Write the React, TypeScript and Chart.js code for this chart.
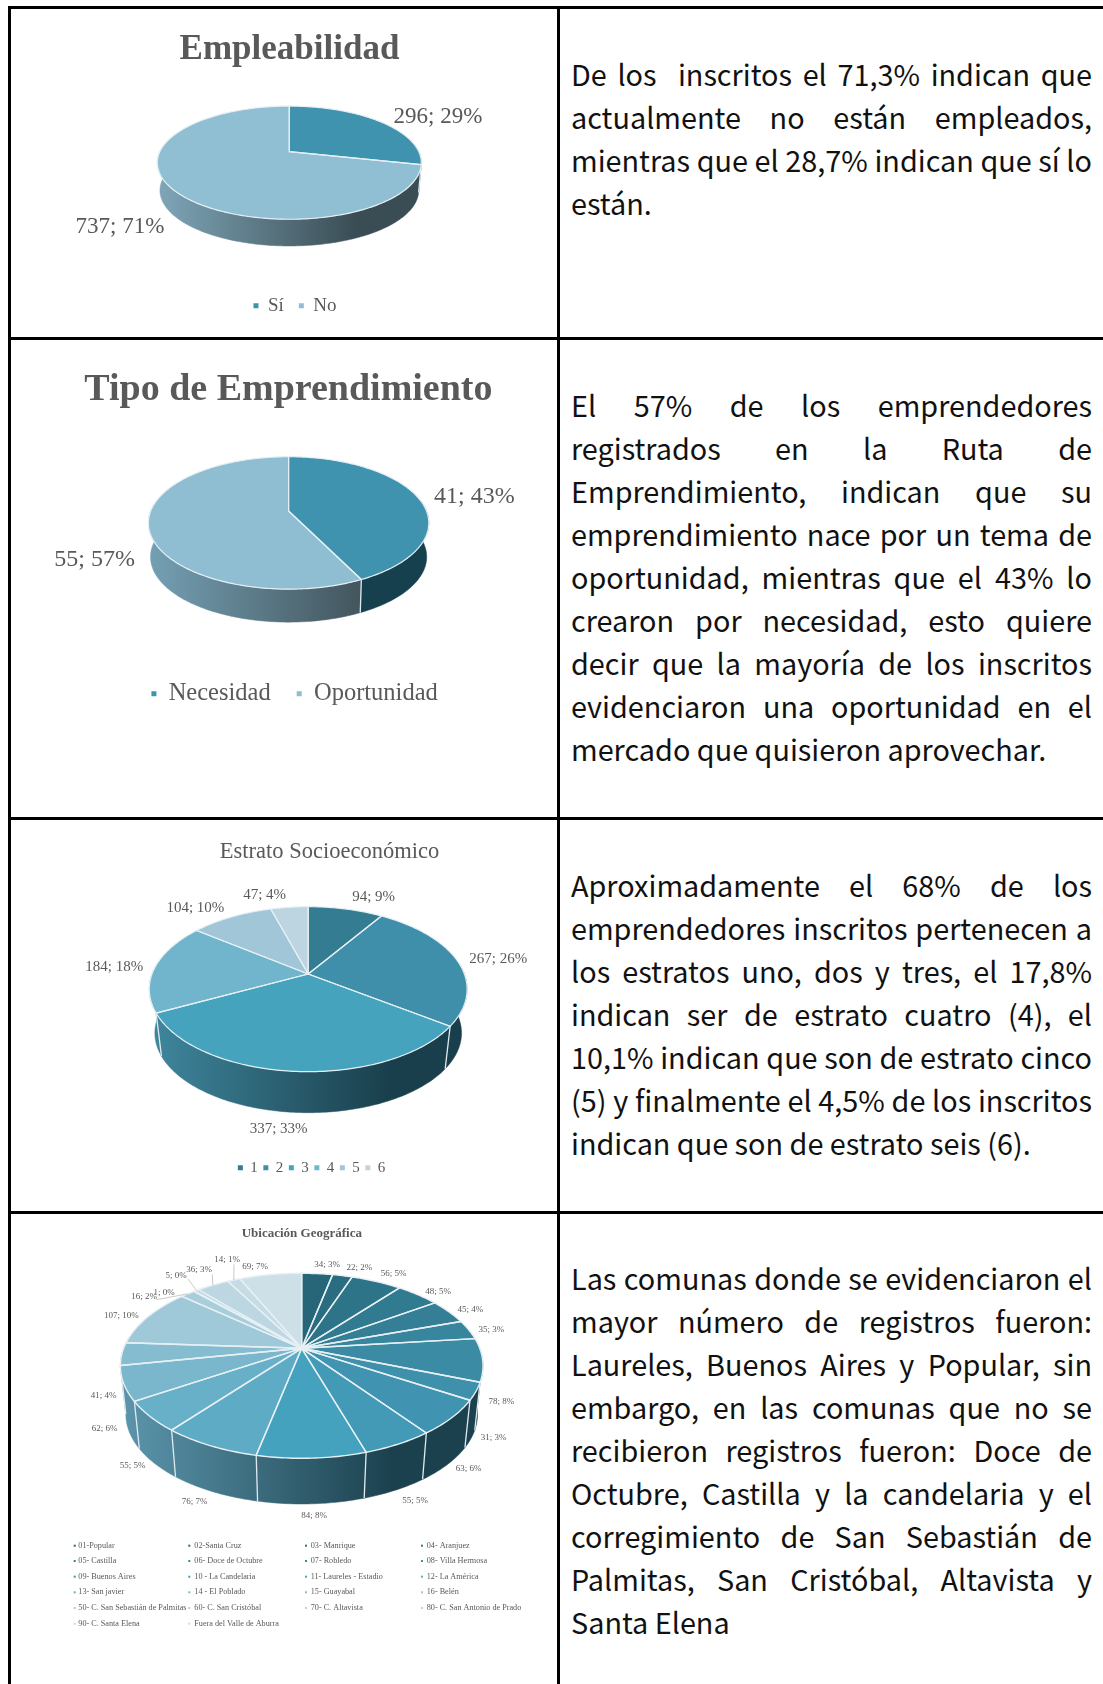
import React, { useEffect, useRef } from "react";
import { Chart, registerables } from "chart.js";

Chart.register(...registerables);

// ---------- data ----------
const empleoLabels = ["Sí", "No"];
const empleoValues = [296, 737];
const empleoPercents = [29, 71];

const tipoLabels = ["Necesidad", "Oportunidad"];
const tipoValues = [41, 55];
const tipoPercents = [43, 57];

const estratoLabels = ["1", "2", "3", "4", "5", "6"];
const estratoValues = [94, 267, 337, 184, 104, 47];
const estratoPercents = [9, 26, 33, 18, 10, 4];

const ubicacionLabels = [
  "01-Popular", "02-Santa Cruz", "03- Manrique", "04- Aranjuez",
  "05- Castilla", "06- Doce de Octubre", "07- Robledo", "08- Villa Hermosa",
  "09- Buenos Aires", "10 - La Candelaria", "11- Laureles - Estadio", "12- La América",
  "13- San javier", "14 - El Poblado", "15- Guayabal", "16- Belén",
  "50- C. San Sebastián de Palmitas", "60- C. San Cristóbal", "70- C. Altavista", "80- C. San Antonio de Prado",
  "90- C. Santa Elena", "Fuera del Valle de Aburra",
];
const ubicacionValues = [34, 22, 56, 48, 45, 35, 78, 31, 63, 55, 84, 76, 55, 62, 41, 107, 16, 1, 5, 36, 14, 69];
const ubicacionPercents = [3, 2, 5, 5, 4, 3, 8, 3, 6, 5, 8, 7, 5, 6, 4, 10, 2, 0, 0, 3, 1, 7];

const paragraphs = [
  ["De los \u00a0inscritos el 71,3% indican que", "actualmente no están empleados,", "mientras que el 28,7% indican que sí lo", "están."],
  ["El 57% de los emprendedores", "registrados en la Ruta de", "Emprendimiento, indican que su", "emprendimiento nace por un tema de", "oportunidad, mientras que el 43% lo", "crearon por necesidad, esto quiere", "decir que la mayoría de los inscritos", "evidenciaron una oportunidad en el", "mercado que quisieron aprovechar."],
  ["Aproximadamente el 68% de los", "emprendedores inscritos pertenecen a", "los estratos uno, dos y tres, el 17,8%", "indican ser de estrato cuatro (4), el", "10,1% indican que son de estrato cinco", "(5) y finalmente el 4,5% de los inscritos", "indican que son de estrato seis (6)."],
  ["Las comunas donde se evidenciaron el", "mayor número de registros fueron:", "Laureles, Buenos Aires y Popular, sin", "embargo, en las comunas que no se", "recibieron registros fueron: Doce de", "Octubre, Castilla y la candelaria y el", "corregimiento de San Sebastián de", "Palmitas, San Cristóbal, Altavista y", "Santa Elena"],
];

// ---------- colours ----------
const empleoColors = ["#3f93ae", "#90bfd3"];
const tipoColors = ["#3f93ae", "#8fbed2"];
const estratoColors = ["#347c92", "#3f8faa", "#46a3bd", "#70b5cc", "#a0c6d7", "#bdd5e1"];
const ubicacionColors = [
  "#276678", "#2a6c80", "#2e7488", "#317b90", "#357f96", "#38869d", "#3c8ba5", "#3e90ab", "#4094b1", "#429ab7", "#45a2bf",
  "#5eabc5", "#67b0c8", "#7ab7cc", "#85bccf", "#9fc8d8", "#a8cddb", "#b0d1de", "#b6d4e0", "#bdd7e2", "#c5dbe5", "#cddfe7",
];

// ---------- layout of the page ----------
const SERIF = '"Liberation Serif", serif';
const TEXT_GREY = "#595959";
const CANVAS_LEFT = 11;
const CANVAS_WIDTH = 546;

const z4 = (x: number, y: number): [number, number] => [60 + x / 3, 1215 + y / 3];

const configs: any[] = [
  {
    top: 9, height: 328, title: "Empleabilidad", titleFont: { size: 35, weight: "bold" }, titleAt: [289.5, 50],
    labels: empleoLabels, values: empleoValues, percents: empleoPercents, colors: empleoColors,
    apex: [289.3, 151.7], radius: 132, tilt: 0.4126, persp: 0.194, depth: 26.7, shrink: 0.98,
    walls: [["#1d4a5a", "#1d4a5a"], ["#7fa6b8", "#3a4d55"]],
    legendAt: [295, 305.7], legendFont: 19, legendGap: 15,
    labelFont: 23, labelAt: [[438, 117], [120, 226.5]],
  },
  {
    top: 340, height: 477, title: "Tipo de Emprendimiento", titleFont: { size: 38, weight: "bold" }, titleAt: [288.4, 389.7],
    labels: tipoLabels, values: tipoValues, percents: tipoPercents, colors: tipoColors,
    apex: [288.6, 511], radius: 140.2, tilt: 0.457, persp: 0.18, depth: 33, shrink: 0.985,
    walls: [["#17404f", "#17404f"], ["#74a0b4", "#44565e"]],
    legendAt: [294.6, 693.7], legendFont: 24.5, legendGap: 26,
    labelFont: 24, labelAt: [[474.4, 496.7], [94.6, 560]],
  },
  {
    top: 820, height: 391, title: "Estrato Socioeconómico", titleFont: { size: 22.5, weight: "normal" }, titleAt: [329.5, 852],
    labels: estratoLabels, values: estratoValues, percents: estratoPercents, colors: estratoColors,
    apex: [308.2, 974], radius: 158.9, tilt: 0.5016, persp: 0.184, depth: 41, shrink: 0.965,
    walls: [["#3f879e", "#1a3f4c"]],
    legendAt: [311.6, 1167.7], legendFont: 15, legendGap: 5.5,
    labelFont: 15,
    labelAt: [[373.6, 896.7], [498.2, 959.3], [278.6, 1129.3], [114.3, 966.7], [195.4, 908.3], [264.6, 895.3]],
  },
  {
    top: 1214, height: 470, title: "Ubicación Geográfica", titleFont: { size: 13, weight: "bold" }, titleAt: [301.8, 1233.7],
    labels: ubicacionLabels, values: ubicacionValues, percents: ubicacionPercents, colors: ubicacionColors,
    apex: [301.7, 1348.3], radius: 181.3, tilt: 0.492, persp: 0.189, depth: 45.7, shrink: 0.97,
    walls: [["#5c96ad", "#1b414e"]],
    labelFont: 9,
    labelAt: [
      z4(801, 150), z4(898, 157), z4(1001, 176), z4(1134, 229), z4(1231, 285), z4(1294, 345), z4(1324, 561),
      z4(1301, 669), z4(1226, 760), z4(1065, 857), [314, 1515.7], z4(404, 861), z4(218, 752), z4(134, 640),
      z4(131, 543), z4(184, 302), z4(252, 244), z4(312, 233), z4(348, 183), z4(417, 164), z4(501, 134), z4(585, 155),
    ],
    leaderFrom: { 16: z4(290, 254), 18: z4(384, 192), 19: z4(457, 178), 20: z4(522, 148) },
    gridLegend: {
      columns: [[74.7, 78.3], [189.3, 194.3], [306, 310.7], [422, 426.7]],
      rows: [1545.7, 1561, 1576.7, 1592.3, 1608, 1623.7],
      font: 8.2,
    },
  },
];

function makePie3d(cfg: any) {
  const oy = cfg.top;
  const ox = CANVAS_LEFT;
  const k = cfg.persp;

  const projector = (rx: number) => {
    const B = rx * Math.sqrt(1 - k * k);
    const A = rx * cfg.tilt;
    const [cx, cy] = cfg.apex;
    return (a: number, frac = 1, lower = false): [number, number] => {
      const w = 1 - k * Math.sin(a);
      const x = (B * Math.cos(a) * frac) / w;
      const y = (A * Math.sin(a) * frac) / w;
      if (!lower) return [cx + x, cy + y];
      const bottomY = A / (1 - k);
      const drop = cfg.depth + bottomY * (1 - cfg.shrink);
      return [cx + x * cfg.shrink, cy + y * cfg.shrink + drop];
    };
  };

  return {
    id: "pie3d",
    afterLayout(chart: any) {
      const t = chart.titleBlock;
      if (t) {
        const lh = cfg.titleFont.size * 1.2;
        const w = t.width;
        t.left = cfg.titleAt[0] - ox - w / 2;
        t.right = t.left + w;
        t.top = cfg.titleAt[1] - oy - lh / 2;
        t.bottom = t.top + lh;
      }
      const l = chart.legend;
      if (l && cfg.legendAt) {
        const pad = cfg.legendGap;
        const w = l.width;
        l.left = cfg.legendAt[0] - ox - w / 2;
        l.right = l.left + w;
        l.top = cfg.legendAt[1] - oy - pad - cfg.legendFont / 2;
        l.bottom = l.top + l.height;
      }
    },
    beforeDatasetDraw(chart: any) {
      const ctx = chart.ctx;
      const arcs = chart.getDatasetMeta(0).data;
      const rx = arcs[0].outerRadius;
      const P = projector(rx);
      const STEP = Math.PI / 180;
      const [cx, cy] = cfg.apex;
      ctx.save();
      ctx.translate(-ox, -oy);
      ctx.lineJoin = "round";

      const samples = (a0: number, a1: number) => {
        const n = Math.max(1, Math.ceil((a1 - a0) / STEP));
        const out: number[] = [];
        for (let i = 0; i <= n; i++) out.push(a0 + ((a1 - a0) * i) / n);
        return out;
      };

      // side wall
      arcs.forEach((arc: any, i: number) => {
        const a0 = Math.max(arc.startAngle, -0.15);
        const a1 = Math.min(arc.endAngle, Math.PI + 0.15);
        if (a1 <= a0) return;
        const pair = cfg.walls[i] || cfg.walls[cfg.walls.length - 1];
        const g = ctx.createLinearGradient(cx - rx, 0, cx - rx + 2 * rx * 0.75, 0);
        g.addColorStop(0, pair[0]);
        g.addColorStop(1, pair[1]);
        const as = samples(a0, a1);
        ctx.beginPath();
        as.forEach((a: number, j: number) => {
          const [x, y] = P(a);
          if (j) ctx.lineTo(x, y);
          else ctx.moveTo(x, y);
        });
        as.slice().reverse().forEach((a: number) => {
          const [x, y] = P(a, 1, true);
          ctx.lineTo(x, y);
        });
        ctx.closePath();
        ctx.fillStyle = g;
        ctx.strokeStyle = g;
        ctx.lineWidth = 0.5;
        ctx.fill();
        ctx.stroke();
      });

      // separators on the wall
      ctx.strokeStyle = "#dfeaef";
      ctx.lineWidth = 1.3;
      arcs.forEach((arc: any) => {
        if (!(arc.startAngle > 0 && arc.startAngle < Math.PI)) return;
        const [x0, y0] = P(arc.startAngle);
        const [x1, y1] = P(arc.startAngle, 1, true);
        ctx.beginPath();
        ctx.moveTo(x0, y0);
        ctx.lineTo(x1, y1);
        ctx.stroke();
      });

      // top surface
      arcs.forEach((arc: any) => {
        ctx.beginPath();
        ctx.moveTo(cx, cy);
        samples(arc.startAngle, arc.endAngle).forEach((a: number) => {
          const [x, y] = P(a);
          ctx.lineTo(x, y);
        });
        ctx.closePath();
        ctx.fillStyle = arc.options.backgroundColor;
        ctx.fill();
      });
      ctx.strokeStyle = "#e6f0f4";
      ctx.lineWidth = cfg.radius > 170 ? 1.4 : 1.2;
      arcs.forEach((arc: any) => {
        ctx.beginPath();
        ctx.moveTo(cx, cy);
        samples(arc.startAngle, arc.endAngle).forEach((a: number) => {
          const [x, y] = P(a);
          ctx.lineTo(x, y);
        });
        ctx.closePath();
        ctx.stroke();
      });
      ctx.restore();
      return false;
    },
    afterDatasetsDraw(chart: any) {
      const ctx = chart.ctx;
      const arcs = chart.getDatasetMeta(0).data;
      const P = projector(arcs[0].outerRadius);
      ctx.save();
      ctx.translate(-ox, -oy);

      // leader lines
      if (cfg.leaderFrom) {
        ctx.strokeStyle = "#c9c9c9";
        ctx.lineWidth = 1;
        Object.keys(cfg.leaderFrom).forEach((key) => {
          const i = +key;
          const from = cfg.leaderFrom[key];
          const mid = (arcs[i].startAngle + arcs[i].endAngle) / 2;
          const [x, y] = P(mid);
          ctx.beginPath();
          ctx.moveTo(from[0], from[1]);
          ctx.lineTo(x, y);
          ctx.stroke();
        });
      }

      // data labels
      ctx.font = `${cfg.labelFont}px ${SERIF}`;
      ctx.fillStyle = TEXT_GREY;
      ctx.textAlign = "center";
      ctx.textBaseline = "middle";
      cfg.values.forEach((v: number, i: number) => {
        const [x, y] = cfg.labelAt[i];
        ctx.fillText(`${v}; ${cfg.percents[i]}%`, x, y);
      });

      // four-column legend
      if (cfg.gridLegend) {
        const { columns, rows, font } = cfg.gridLegend;
        ctx.font = `${font}px ${SERIF}`;
        ctx.textAlign = "left";
        cfg.labels.forEach((name: string, i: number) => {
          const col = columns[i % columns.length];
          const y = rows[Math.floor(i / columns.length)];
          ctx.fillStyle = cfg.colors[i];
          ctx.fillRect(col[0] - 1, y - 1, 2, 2);
          ctx.fillStyle = TEXT_GREY;
          ctx.fillText(name, col[1], y);
        });
      }
      ctx.restore();
    },
  };
}

function PieCell({ cfg }: { cfg: any }) {
  const ref = useRef<HTMLCanvasElement | null>(null);
  useEffect(() => {
    const chart = new Chart(ref.current as HTMLCanvasElement, {
      type: "pie",
      data: {
        labels: cfg.labels,
        datasets: [{ data: cfg.values, backgroundColor: cfg.colors, borderWidth: 0, radius: cfg.radius }],
      },
      options: {
        responsive: false,
        animation: false,
        radius: cfg.radius,
        plugins: {
          tooltip: { enabled: false },
          title: {
            display: true,
            text: cfg.title,
            color: TEXT_GREY,
            padding: 0,
            font: { family: SERIF, size: cfg.titleFont.size, weight: cfg.titleFont.weight },
          },
          legend: cfg.legendAt
            ? {
                display: true,
                position: "bottom",
                labels: {
                  usePointStyle: true,
                  pointStyle: "rect",
                  boxWidth: 5,
                  boxHeight: 5,
                  padding: cfg.legendGap,
                  color: TEXT_GREY,
                  font: { family: SERIF, size: cfg.legendFont },
                },
              }
            : { display: false },
        },
      } as any,
      plugins: [makePie3d(cfg)],
    } as any);
    return () => chart.destroy();
  }, [cfg]);
  return (
    <canvas
      ref={ref}
      width={CANVAS_WIDTH}
      height={cfg.height}
      style={{ position: "absolute", left: CANVAS_LEFT, top: cfg.top, width: CANVAS_WIDTH, height: cfg.height }}
    />
  );
}

const firstLineCentre = [74.2, 405, 885, 1278];
const LINE_STEP = 42.96;
const ruleStyle = { position: "absolute", background: "#000" } as const;

export default function App() {
  return (
    <div style={{ position: "absolute", left: 0, top: 0, width: 1103, height: 1684, overflow: "hidden", background: "#fff" }}>
      <div style={{ ...ruleStyle, left: 8, top: 6, width: 1095, height: 3 }} />
      <div style={{ ...ruleStyle, left: 8, top: 337, width: 1095, height: 3 }} />
      <div style={{ ...ruleStyle, left: 8, top: 817, width: 1095, height: 3 }} />
      <div style={{ ...ruleStyle, left: 8, top: 1211, width: 1095, height: 3 }} />
      <div style={{ ...ruleStyle, left: 8, top: 6, width: 3, height: 1678 }} />
      <div style={{ ...ruleStyle, left: 557, top: 6, width: 3, height: 1678 }} />
      {configs.map((cfg) => (
        <PieCell key={cfg.title} cfg={cfg} />
      ))}
      {paragraphs.map((lines, p) =>
        lines.map((line, i) => (
          <div
            key={`${p}-${i}`}
            style={{
              position: "absolute",
              left: 571,
              width: 521,
              top: firstLineCentre[p] + i * LINE_STEP - 20,
              height: 40,
              lineHeight: "40px",
              fontFamily: '"Noto Sans CJK SC", "Noto Sans", sans-serif',
              fontSize: 28.8,
              color: "#111",
              whiteSpace: "nowrap",
              textAlign: "justify",
              textAlignLast: i === lines.length - 1 ? "left" : "justify",
            }}
          >
            {line}
          </div>
        ))
      )}
    </div>
  );
}
